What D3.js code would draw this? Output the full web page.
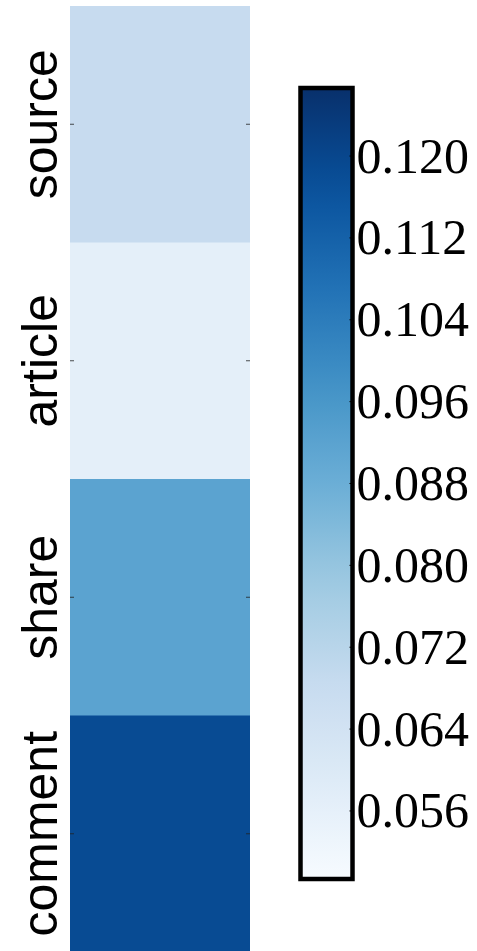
<!DOCTYPE html>
<html>
<head>
    <meta charset="utf-8">
    <title>heatmap</title>
    <script src="https://cdnjs.cloudflare.com/ajax/libs/d3/7.8.5/d3.min.js"></script>
    <style>
        body{ margin: 0; background: #fff; }
    </style>
</head>
<body>
<script>
    // data
    const categories = ['source', 'article', 'share', 'comment'];
    const values = [0.0684, 0.0568, 0.0917, 0.1188];
    const cbTicks = [0.056, 0.064, 0.072, 0.080, 0.088, 0.096, 0.104, 0.112, 0.120];
    const vmin = 0.0493, vmax = 0.1266;

    // matplotlib Blues
    const bluesStops = ['#f7fbff', '#deebf7', '#c6dbef', '#9ecae1', '#6baed6',
        '#4292c6', '#2171b5', '#08519c', '#08306b'];
    const blues = d3.piecewise(d3.interpolateRgb, bluesStops);
    const color = d3.scaleSequential(blues).domain([vmin, vmax]);

    const svg = d3.select('body')
        .append('svg')
        .attr('width', 477)
        .attr('height', 951);

    // heatmap column
    const x0 = 70, x1 = 250;
    const y = d3.scaleBand()
        .domain(categories)
        .range([6, 952]);

    svg.append('g').selectAll('rect')
        .data(categories)
        .enter()
        .append('rect')
        .attr('x', x0)
        .attr('y', d => y(d))
        .attr('width', x1 - x0)
        .attr('height', y.bandwidth() + 0.5)
        .attr('fill', (d, i) => color(values[i]));

    //inward ticks both sides
    const axL = svg.append('g')
        .attr('transform', `translate(${x0},0)`)
        .call(d3.axisLeft(y).tickSize(-4).tickFormat(''));
    const axR = svg.append('g')
        .attr('transform', `translate(${x1},0)`)
        .call(d3.axisRight(y).tickSize(-4).tickFormat(''));
    [axL, axR].forEach(a => {
        a.select('.domain').remove();
        a.selectAll('line').attr('stroke', '#222').attr('stroke-width', 0.8);
    });

    // rotated row labels
    svg.append('g').selectAll('text')
        .data(categories)
        .enter()
        .append('text')
        .attr('transform', d => `translate(57,${y(d) + y.bandwidth() / 2}) rotate(-90)`)
        .attr('text-anchor', 'middle')
        .style('font-family', '"Liberation Sans", Arial, sans-serif')
        .style('font-size', '50px')
        .text(d => d);

    // colorbar
    const cbX = 300.5, cbW = 52;
    const cy = d3.scaleLinear()
        .domain([vmin, vmax])
        .range([879, 88]);

    const grad = svg.append('defs').append('linearGradient')
        .attr('id', 'cbgrad')
        .attr('x1', 0).attr('y1', 1)
        .attr('x2', 0).attr('y2', 0);
    grad.selectAll('stop')
        .data(d3.range(0, 1.0001, 0.05))
        .enter()
        .append('stop')
        .attr('offset', d => d)
        .attr('stop-color', d => blues(d));

    svg.append('rect')
        .attr('x', cbX)
        .attr('y', cy(vmax))
        .attr('width', cbW)
        .attr('height', cy(vmin) - cy(vmax))
        .attr('fill', 'url(#cbgrad)');

    const cbAxis = svg.append('g')
        .attr('transform', `translate(${cbX + cbW},0)`)
        .call(d3.axisRight(cy).tickValues(cbTicks).tickSize(-3).tickFormat(d3.format('.3f')).tickPadding(6));
    cbAxis.select('.domain').remove();
    cbAxis.selectAll('line').attr('stroke', '#000').attr('stroke-width', 1);
    cbAxis.selectAll('text')
        .attr('x', 4)
        .attr('dy', '0.33em')
        .attr('fill', '#000')
        .style('font-family', '"Liberation Serif", "Times New Roman", serif')
        .style('font-size', '50px');

    svg.append('rect')
        .attr('x', cbX)
        .attr('y', cy(vmax))
        .attr('width', cbW)
        .attr('height', cy(vmin) - cy(vmax))
        .attr('fill', 'none')
        .attr('stroke', '#000')
        .attr('stroke-width', 4.5);
</script>
</body>
</html>
